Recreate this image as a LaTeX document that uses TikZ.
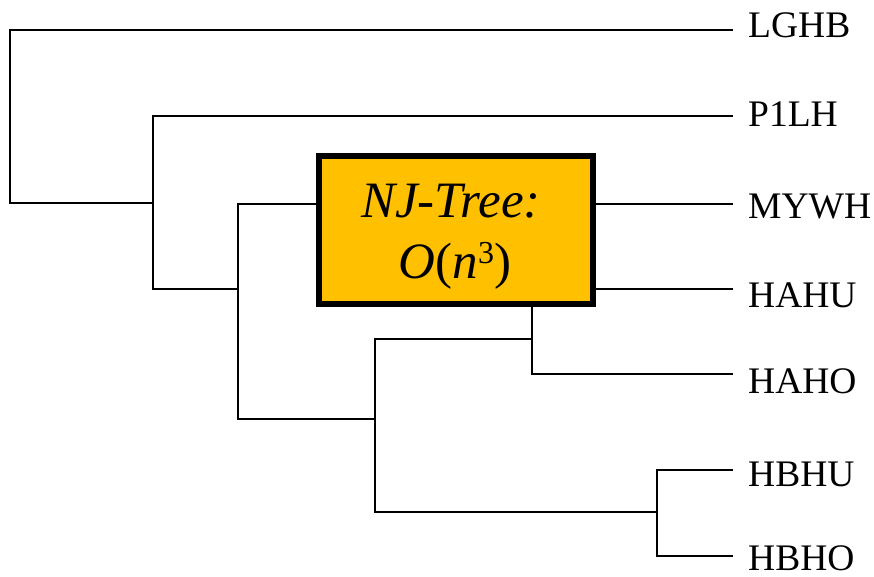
\documentclass[tikz,border=0pt]{standalone}
\usepackage{fontspec}
\setmainfont{Liberation Serif}
\begin{document}
\begin{tikzpicture}[x=1pt,y=-1pt,
  branch/.style={line width=2pt, line join=miter},
  leaflabel/.style={anchor=base west, inner sep=0pt, font=\fontsize{37.5}{40}\selectfont},
  njbox/.style={draw=black, line width=5.5pt, fill=njorange, minimum width=274pt, minimum height=148pt, inner sep=0pt},
  njtext/.style={anchor=base, inner sep=0pt, font=\fontsize{51}{56}\selectfont}]
\definecolor{njorange}{HTML}{FFC000}
\useasboundingbox (0,0) rectangle (874,576);

% leaf ends of the branches
\coordinate (tLGHB) at (733,30);
\coordinate (tP1LH) at (733,116);
\coordinate (tMYWH) at (733,204);
\coordinate (tHAHU) at (733,289);
\coordinate (tHAHO) at (733,374);
\coordinate (tHBHU) at (733,470);
\coordinate (tHBHO) at (733,556);

% inner nodes of the tree
\coordinate (root) at (10,203);
\coordinate (n1) at (153,203);
\coordinate (n2) at (238,289);
\coordinate (n3) at (375,419);
\coordinate (n4) at (532,339);
\coordinate (n5) at (657,512);

% highlighted subtree
\node[njbox] (nj) at (456,230) {};

% branches
\draw[branch] (tLGHB) -| (root) -- (n1);
\draw[branch] (tP1LH) -| (n1) |- (n2);
\draw[branch] (nj.west |- tMYWH) -| (n2) |- (n3);
\draw[branch] (n4) -| (n3) |- (n5);
\draw[branch] (n4 |- nj.south) -- (n4) |- (tHAHO);
\draw[branch] (nj.east |- tMYWH) -- (tMYWH);
\draw[branch] (nj.east |- tHAHU) -- (tHAHU);
\draw[branch] (tHBHU) -| (n5) |- (tHBHO);

% redraw the box over the branch ends
\node[njbox] (njtop) at (456,230) {};
\node[njtext] (njA) at (451,217) {\textit{NJ-Tree:}};
\node[njtext] (njB) at (455,278) {\textit{O}(\textit{n}\raisebox{15pt}{\fontsize{32}{34}\selectfont 3})};

% leaf labels
\node[leaflabel] (lLGHB) at (748,37) {LGHB};
\node[leaflabel] (lP1LH) at (748,126) {P1LH};
\node[leaflabel] (lMYWH) at (748,218) {MYWH};
\node[leaflabel] (lHAHU) at (748,307) {HAHU};
\node[leaflabel] (lHAHO) at (748,393) {HAHO};
\node[leaflabel] (lHBHU) at (748,486) {HBHU};
\node[leaflabel] (lHBHO) at (748,570) {HBHO};
\end{tikzpicture}
\end{document}
